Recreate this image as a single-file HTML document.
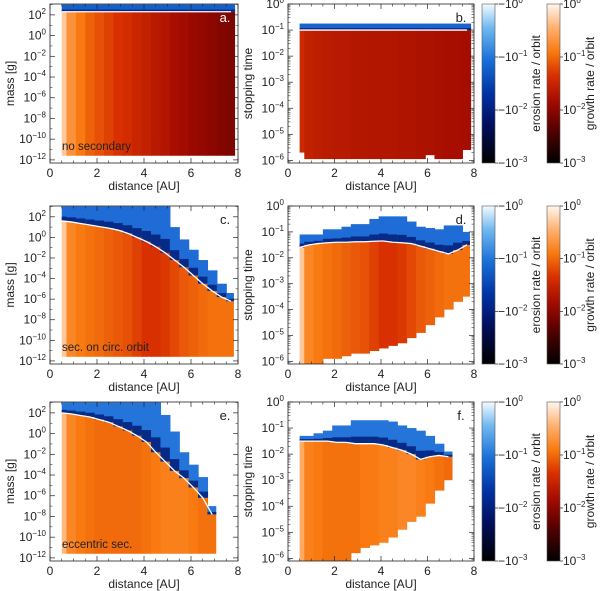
<!DOCTYPE html>
<html><head><meta charset="utf-8">
<style>
html,body{margin:0;padding:0;background:#fff;}
svg{display:block;font-family:"Liberation Sans",sans-serif;}
</style></head>
<body>
<svg id="fig" width="600" height="591" viewBox="0 0 600 591" xmlns="http://www.w3.org/2000/svg">
<defs>
<linearGradient id="gEro" x1="0" y1="1" x2="0" y2="0">
<stop offset="0" stop-color="#000000"/><stop offset="0.25" stop-color="#001060"/><stop offset="0.45" stop-color="#0035a8"/><stop offset="0.65" stop-color="#1a70d8"/><stop offset="0.85" stop-color="#70b8f0"/><stop offset="1" stop-color="#f4faff"/>
</linearGradient>
<linearGradient id="gGro" x1="0" y1="1" x2="0" y2="0">
<stop offset="0" stop-color="#000000"/><stop offset="0.2" stop-color="#500000"/><stop offset="0.38" stop-color="#a00a00"/><stop offset="0.55" stop-color="#d83000"/><stop offset="0.7" stop-color="#f87a10"/><stop offset="0.85" stop-color="#ffb070"/><stop offset="1" stop-color="#fff6ee"/>
</linearGradient>
</defs>
</svg>
<script>
// shared distance columns [AU]
const dist = [0.5,0.9,1.3,1.7,2.1,2.5,2.9,3.3,3.7,4.1,4.5,4.9,5.3,5.7,6.1,6.5,6.9,7.3,7.7];
const xTicks = [0,2,4,6,8];
const massTicks = [2,0,-2,-4,-6,-8,-10,-12];
const stopTicks = [0,-1,-2,-3,-4,-5,-6];
const cbarTicks = [0,-1,-2,-3];

// panel a
const growthA = [-0.3,-0.7,-0.9,-1.05,-1.15,-1.25,-1.35,-1.4,-1.5,-1.55,-1.65,-1.7,-1.8,-1.85,-1.9,-1.95,-2.0,-2.05,-2.1];
const boundA  = [2.3,2.3,2.3,2.3,2.3,2.3,2.3,2.3,2.3,2.3,2.3,2.3,2.3,2.3,2.3,2.3,2.3,2.3,2.3];
const erosTopA= [3,3,3,3,3,3,3,3,3,3,3,3,3,3,3,3,3,3,3];
const bottomA = [-11.6,-11.6,-11.6,-11.6,-11.6,-11.6,-11.6,-11.6,-11.6,-11.6,-11.6,-11.6,-11.6,-11.6,-11.6,-11.6,-11.6,-11.6,-11.6];
// panel b
const growthB = [-1.45,-1.55,-1.6,-1.62,-1.65,-1.65,-1.68,-1.68,-1.7,-1.7,-1.7,-1.72,-1.72,-1.75,-1.75,-1.78,-1.8,-1.8,-1.82];
const boundB  = [-1.0,-1.0,-1.0,-1.0,-1.0,-1.0,-1.0,-1.0,-1.0,-1.0,-1.0,-1.0,-1.0,-1.0,-1.0,-1.0,-1.0,-1.0,-1.0];
const erosTopB= [-0.75,-0.75,-0.75,-0.75,-0.75,-0.75,-0.75,-0.75,-0.75,-0.75,-0.75,-0.75,-0.75,-0.75,-0.75,-0.75,-0.75,-0.75,-0.75];
const bottomB = [-5.7,-5.95,-5.95,-5.95,-5.95,-5.95,-5.95,-5.95,-5.95,-5.95,-5.95,-5.95,-5.95,-5.95,-5.8,-5.95,-5.95,-5.95,-5.6];
// panel c
const growthC = [-0.3,-0.8,-0.9,-0.95,-1.0,-1.05,-1.1,-1.15,-1.25,-1.35,-1.35,-1.3,-1.2,-1.1,-1.05,-1.0,-0.95,-0.95,-0.95];
const boundC  = [1.6,1.5,1.35,1.2,1.05,0.9,0.7,0.4,0.0,-0.4,-0.9,-1.5,-2.2,-2.9,-3.7,-4.5,-5.2,-5.8,-6.2];
const erosTopC= [3,3,3,3,3,3,3,3,3,3,3,3,1.0,-0.2,-1.2,-2.2,-3.2,-4.5,-5.4];
const bottomC = [-11.6,-11.6,-11.6,-11.6,-11.6,-11.6,-11.6,-11.6,-11.6,-11.6,-11.6,-11.6,-11.6,-11.6,-11.6,-11.6,-11.6,-11.6,-11.6];
// panel d
const growthD = [-0.3,-0.8,-0.9,-0.95,-1.0,-1.05,-1.1,-1.15,-1.25,-1.35,-1.35,-1.3,-1.2,-1.1,-1.05,-1.0,-0.95,-0.95,-0.95];
const boundD  = [-1.6,-1.5,-1.45,-1.42,-1.4,-1.4,-1.38,-1.38,-1.36,-1.35,-1.4,-1.42,-1.45,-1.55,-1.65,-1.75,-1.85,-1.7,-1.5];
const erosTopD= [-1.1,-1.1,-1.1,-0.9,-0.9,-0.8,-0.7,-0.7,-0.5,-0.4,-0.4,-0.4,-0.6,-0.8,-0.85,-0.9,-0.75,-0.75,-1.0];
const bottomD = [-6.1,-6.1,-6.1,-5.9,-5.9,-5.8,-5.7,-5.7,-5.6,-5.5,-5.4,-5.3,-5.1,-4.9,-4.6,-4.3,-4.0,-3.7,-3.5];
// panel e
const growthE = [-0.4,-0.8,-0.9,-0.95,-1.0,-1.0,-1.0,-1.0,-1.0,-0.95,-0.9,-0.85,-0.85,-0.85,-0.9,-0.95,-0.95,null,null];
const boundE  = [2.0,1.9,1.75,1.6,1.35,1.1,0.7,0.3,-0.2,-0.8,-1.8,-2.7,-3.6,-4.3,-5.2,-6.2,-7.8,null,null];
const erosTopE= [3,3,3,3,3,3,3,3,3,3,3,1.8,0.2,-1.8,-3.0,-4.2,-7.0,null,null];
const bottomE = [-11.6,-11.6,-11.6,-11.6,-11.6,-11.6,-11.6,-11.6,-11.6,-11.6,-11.6,-11.6,-11.6,-11.6,-11.6,-11.6,-11.6,null,null];
// panel f
const growthF = [-0.5,-0.85,-0.9,-0.95,-0.95,-0.95,-0.95,-0.9,-0.9,-0.85,-0.85,-0.8,-0.8,-0.85,-0.9,-0.95,-1.0,null,null];
const boundF  = [-1.5,-1.5,-1.5,-1.5,-1.55,-1.55,-1.6,-1.6,-1.6,-1.65,-1.75,-1.85,-2.0,-2.2,-2.1,-2.05,-2.1,null,null];
const erosTopF= [-1.3,-1.3,-1.2,-1.1,-0.9,-0.9,-0.7,-0.7,-0.7,-0.7,-0.75,-0.9,-1.0,-1.1,-1.3,-1.6,-1.9,null,null];
const bottomF = [-6.1,-6.1,-6.1,-6.1,-6.1,-6.1,-5.8,-5.6,-5.5,-5.4,-5.2,-4.9,-4.6,-4.4,-3.9,-3.4,-3.0,null,null];

const NS = "http://www.w3.org/2000/svg";
const svg = document.getElementById('fig');
function mk(tag, attrs, parent){const e=document.createElementNS(NS,tag);for(const k in attrs)e.setAttribute(k,attrs[k]);(parent||svg).appendChild(e);return e;}

function lerp(a,b,t){return a+(b-a)*t;}
function cmap(stops, v){
  v=Math.max(0,Math.min(1,v));
  for(let i=1;i<stops.length;i++){if(v<=stops[i][0]){const a=stops[i-1],b=stops[i];const t=(v-a[0])/(b[0]-a[0]);
    return 'rgb('+[1,2,3].map(j=>Math.round(lerp(a[j],b[j],t))).join(',')+')';}}
  const l=stops[stops.length-1];return 'rgb('+l[1]+','+l[2]+','+l[3]+')';
}
const groStops=[[0,0,0,0],[0.2,80,0,0],[0.38,160,10,0],[0.55,216,48,0],[0.7,248,122,16],[0.85,255,176,112],[1,255,246,238]];

const cols = {L1:50,R1:238,L2:288,R2:474};
const rows = [{t:4,b:163},{t:206,b:364},{t:402,b:561}];

function panel(p){
  const g=mk('g',{});
  
  
  const xs=d=>p.L+(d/8)*(p.R-p.L);
  const ys=v=>p.T+(p.ymax-v)/(p.ymax-p.ymin)*(p.B-p.T);
  const cg=mk('g',{},g);
  
  
  const pts=[];
  for(let i=0;i<dist.length;i++){
    if(p.growth[i]==null) continue;
    const x0=xs(Math.max(0.5,dist[i]-0.2)), x1=xs(Math.min(p.xend,dist[i]+0.2));
    const yb=ys(p.bottom[i]), yg=ys(p.bound[i]), ye=ys(p.erosTop[i]);
    const r=mk('rect',{x:x0,y:yg,width:x1-x0+0.6,height:Math.max(0,yb-yg),fill:cmap(groStops,(p.growth[i]+3)/3)},cg);
    
    
    if(ye<yg){
      const gap=yg-ye;
      const e1=mk('rect',{x:x0,y:ye,width:x1-x0+0.6,height:gap,fill:p.eroLight},cg);
      
      
      const dh=Math.min(gap,Math.max(2,gap*0.3));
      const e2=mk('rect',{x:x0,y:yg-dh,width:x1-x0+0.6,height:dh,fill:'#062a85'},cg);
      
      
    }
    pts.push(xs(dist[i])+','+yg);
  }
  const line=mk('polyline',{points:pts.join(' '),fill:'none',stroke:'#fff','stroke-width':1.3},g);
  
  
  const box=mk('rect',{x:p.L,y:p.T,width:p.R-p.L,height:p.B-p.T,fill:'none',stroke:'#222','stroke-width':0.8},g);
  
  
  for(const t of xTicks){
    const x=xs(t);
    mk('line',{x1:x,y1:p.B,x2:x,y2:p.B-5,stroke:'#222','stroke-width':0.7},g);
    mk('line',{x1:x,y1:p.T,x2:x,y2:p.T+5,stroke:'#222','stroke-width':0.7},g);
    const tx=mk('text',{x:x,y:p.B+14,'font-size':12,'text-anchor':'middle',fill:'#222'},g);
    tx.textContent=t;
    
    
  }
  for(let m=0.5;m<8;m+=0.5){if(m%2===0)continue;const x=xs(m);
    mk('line',{x1:x,y1:p.B,x2:x,y2:p.B-2.5,stroke:'#222','stroke-width':0.6},g);
    mk('line',{x1:x,y1:p.T,x2:x,y2:p.T+2.5,stroke:'#222','stroke-width':0.6},g);}
  const xt=mk('text',{x:(p.L+p.R)/2,y:p.B+27,'font-size':12,'text-anchor':'middle',fill:'#222'},g);
  xt.textContent='distance [AU]';
  
  
  for(const t of p.yTicks){
    const y=ys(t);
    mk('line',{x1:p.L,y1:y,x2:p.L+5,y2:y,stroke:'#222','stroke-width':0.7},g);
    mk('line',{x1:p.R,y1:y,x2:p.R-5,y2:y,stroke:'#222','stroke-width':0.7},g);
    const tx=mk('text',{x:p.L-4,y:y+4,'font-size':12,'text-anchor':'end',fill:'#222'},g);
    
    
    const a=mk('tspan',{},tx);a.textContent='10';
    const b=mk('tspan',{'font-size':8,dy:-5},tx);b.textContent=String(t).replace('-','\u2212');
  }
  const step=p.yTicks[0]-p.yTicks[1];
  for(let v=Math.ceil(p.ymin);v<=p.ymax;v++){ if(step===1){for(let k=2;k<10;k++){const y=ys(v+Math.log10(k)-1);if(y>p.T&&y<p.B){mk('line',{x1:p.L,y1:y,x2:p.L+2.5,y2:y,stroke:'#222','stroke-width':0.5},g);mk('line',{x1:p.R,y1:y,x2:p.R-2.5,y2:y,stroke:'#222','stroke-width':0.5},g);}}}
    else if(((v%2)+2)%2===1){const y=ys(v);mk('line',{x1:p.L,y1:y,x2:p.L+2.5,y2:y,stroke:'#222','stroke-width':0.5},g);mk('line',{x1:p.R,y1:y,x2:p.R-2.5,y2:y,stroke:'#222','stroke-width':0.5},g);}}
  const cy=(p.T+p.B)/2, cx=p.L-36;
  const yt=mk('text',{x:cx,y:cy,'font-size':12,'text-anchor':'middle',fill:'#222',transform:'rotate(-90 '+cx+' '+cy+')'},g);
  yt.textContent=p.ylabel;
  
  
  const lb=mk('text',{x:p.R-13,y:p.T+18,'font-size':13,'text-anchor':'middle',fill:p.id==='a'?'#fff':'#222'},g);
  lb.textContent=p.id+'.';
  
  
  if(p.note){const n=mk('text',{x:p.L+12,y:p.B-13,'font-size':11.5,fill:'#222'},g);n.textContent=p.note;
    
    }
}

function cbars(r){
  const specs=[{x:482,w:13,fill:'url(#gEro)',neg:true,label:'erosion rate / orbit',lx:540,name:'erosion-colorbar'},
               {x:547,w:13,fill:'url(#gGro)',neg:false,label:'growth rate / orbit',lx:594,name:'growth-colorbar'}];
  for(const s of specs){
    const g=mk('g',{});
    
    
    mk('rect',{x:s.x,y:r.t,width:s.w,height:r.b-r.t,fill:s.fill,stroke:'#555','stroke-width':0.6},g);
    for(const t of cbarTicks){
      const y=r.t+(-t/3)*(r.b-r.t);
      mk('line',{x1:s.x+s.w,y1:y,x2:s.x+s.w+3,y2:y,stroke:'#222','stroke-width':0.7},g);
      const tx=mk('text',{x:s.x+s.w+3,y:y+4,'font-size':12,fill:'#222'},g);
      
      
      const a=mk('tspan',{},tx);a.textContent=(s.neg?'\u221210':'10');
      const b=mk('tspan',{'font-size':8,dy:-5},tx);b.textContent=String(t).replace('-','\u2212');
    }
    const cy=(r.t+r.b)/2;
    const lt=mk('text',{x:s.lx,y:cy,'font-size':12,'text-anchor':'middle',fill:'#222',transform:'rotate(-90 '+s.lx+' '+cy+')'},g);
    lt.textContent=s.label;
    
    
  }
}

const massP={ymin:-12.3,ymax:3.05,yTicks:massTicks,ylabel:'mass [g]'};
const stopP={ymin:-6.1,ymax:0,yTicks:stopTicks,ylabel:'stopping time'};
const panels=[
 Object.assign({id:'a',L:cols.L1,R:cols.R1,T:rows[0].t,B:rows[0].b,growth:growthA,bound:boundA,erosTop:erosTopA,bottom:bottomA,xend:7.85,eroLight:'#1560c8',note:'no secondary'},massP),
 Object.assign({id:'b',L:cols.L2,R:cols.R2,T:rows[0].t,B:rows[0].b,growth:growthB,bound:boundB,erosTop:erosTopB,bottom:bottomB,xend:7.85,eroLight:'#1a62cc'},stopP),
 Object.assign({id:'c',L:cols.L1,R:cols.R1,T:rows[1].t,B:rows[1].b,growth:growthC,bound:boundC,erosTop:erosTopC,bottom:bottomC,xend:7.8,eroLight:'#1f6cd6',note:'sec. on circ. orbit'},massP),
 Object.assign({id:'d',L:cols.L2,R:cols.R2,T:rows[1].t,B:rows[1].b,growth:growthD,bound:boundD,erosTop:erosTopD,bottom:bottomD,xend:7.8,eroLight:'#1f6cd6'},stopP),
 Object.assign({id:'e',L:cols.L1,R:cols.R1,T:rows[2].t,B:rows[2].b,growth:growthE,bound:boundE,erosTop:erosTopE,bottom:bottomE,xend:7.05,eroLight:'#2574da',note:'eccentric sec.'},massP),
 Object.assign({id:'f',L:cols.L2,R:cols.R2,T:rows[2].t,B:rows[2].b,growth:growthF,bound:boundF,erosTop:erosTopF,bottom:bottomF,xend:7.05,eroLight:'#2574da'},stopP)
];
panels.forEach(panel);
rows.forEach(cbars);
</script>
</body></html>
